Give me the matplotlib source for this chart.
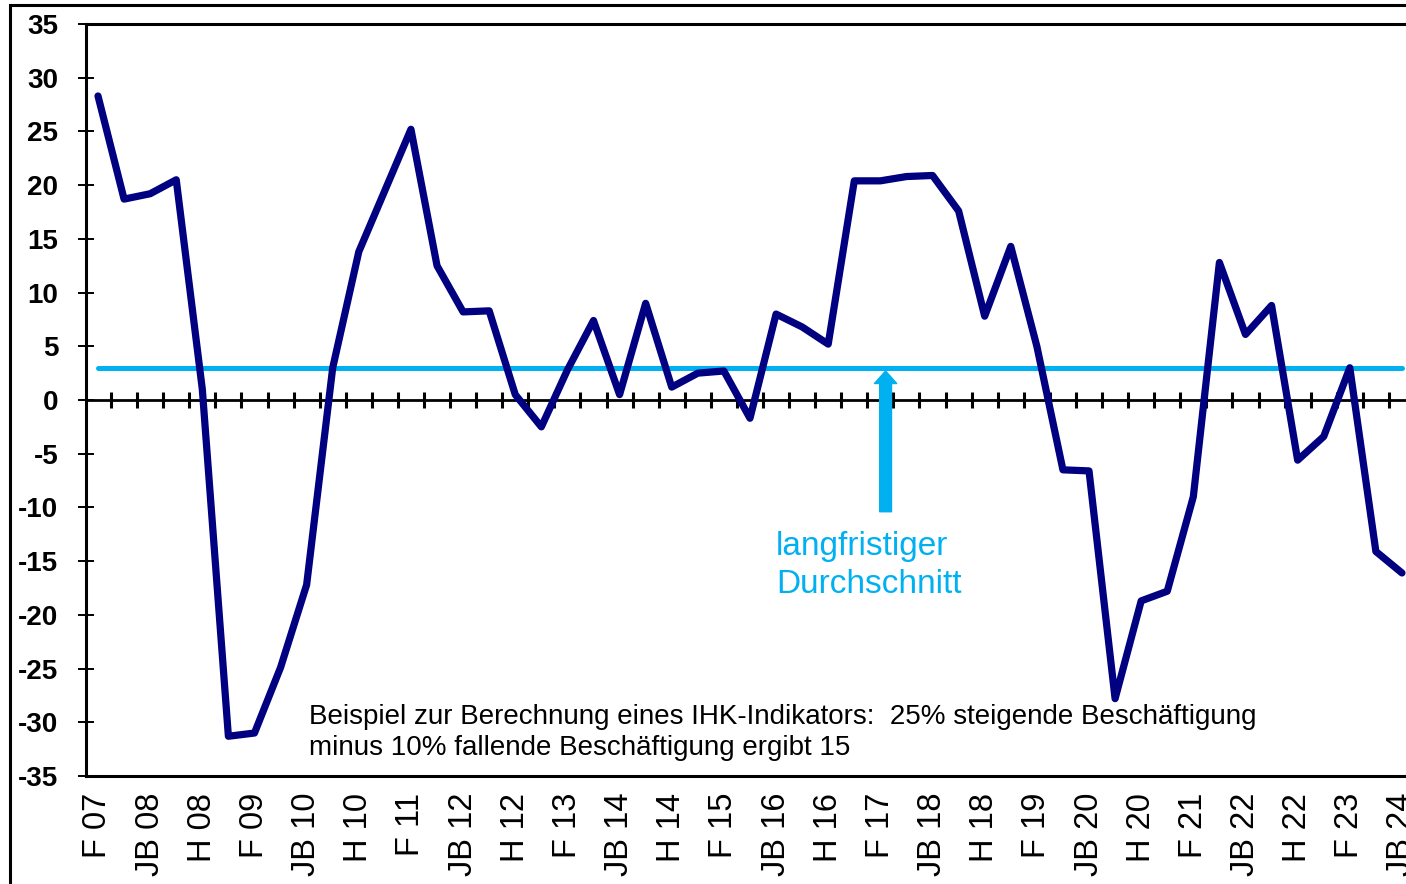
import numpy as np
import matplotlib
matplotlib.use("Agg")
import matplotlib.pyplot as plt
from matplotlib.patches import Rectangle

plt.rcParams['font.family'] = ['Liberation Sans', 'DejaVu Sans']

# Survey waves: F = Frühjahr, H = Herbst, JB = Jahresbeginn
periods = ['F 07', 'H 07', 'JB 08', 'F 08', 'H 08', 'JB 09', 'F 09', 'H 09', 'JB 10', 'F 10',
           'H 10', 'JB 11', 'F 11', 'H 11', 'JB 12', 'F 12', 'H 12', 'JB 13', 'F 13', 'H 13',
           'JB 14', 'F 14', 'H 14', 'JB 15', 'F 15', 'H 15', 'JB 16', 'F 16', 'H 16', 'JB 17',
           'F 17', 'H 17', 'JB 18', 'F 18', 'H 18', 'JB 19', 'F 19', 'H 19', 'JB 20', 'F 20',
           'H 20', 'JB 21', 'F 21', 'H 21', 'JB 22', 'F 22', 'H 22', 'JB 23', 'F 23', 'H 23',
           'JB 24']
indicator = [28.3, 18.7, 19.2, 20.5, 1.0, -31.3, -31.0, -24.9, -17.2, 3.0,
             13.8, 19.5, 25.2, 12.5, 8.2, 8.3, 0.5, -2.5, 2.8, 7.4,
             0.5, 9.0, 1.2, 2.5, 2.7, -1.7, 8.0, 6.8, 5.2, 20.4,
             20.4, 20.8, 20.9, 17.6, 7.8, 14.3, 5.0, -6.5, -6.6, -27.8,
             -18.7, -17.8, -9.0, 12.8, 6.1, 8.8, -5.6, -3.4, 3.0, -14.1,
             -16.1]
long_term_avg = 3.0
y_ticks = list(range(-35, 40, 5))

x = np.arange(len(periods))

fig = plt.figure(figsize=(14.06, 8.84), dpi=100)
ax = fig.add_axes([86 / 1406, 1 - 776 / 884, (1415 - 86) / 1406, (776 - 24) / 884])

# outer chart frame
fig.add_artist(Rectangle((10 / 1406, -0.1), 1.2, 1.1 - 5 / 884, transform=fig.transFigure,
                         fill=False, edgecolor='black', lw=2.2))

# zero line with category ticks
ax.axhline(0, color='black', lw=2, zorder=2)
ax.plot(x[:-1] + 0.5, np.zeros(len(x) - 1), ls='none', marker='|', ms=12, mew=2.2,
        color='black', zorder=2)

# long-term average
ax.plot([x[0], x[-1]], [long_term_avg, long_term_avg], color='#00B0F0', lw=3.6,
        solid_capstyle='round', zorder=3)

# indicator series
ax.plot(x, indicator, color='#000080', lw=5.2, solid_capstyle='round',
        solid_joinstyle='round', zorder=4)

ax.annotate('', xy=(30.2, long_term_avg - 0.3), xytext=(30.2, -10.4),
            arrowprops=dict(arrowstyle='simple,head_length=0.9,head_width=1.6,tail_width=0.85',
                            mutation_scale=10, color='#00B0F0', shrinkA=0, shrinkB=0),
            zorder=5)
ax.text(26.0, -12.2, 'langfristiger\nDurchschnitt', color='#00B0F0', fontsize=24,
        va='top', ha='left', linespacing=1.3)
ax.text(8.1, -28.3, 'Beispiel zur Berechnung eines IHK-Indikators:  25% steigende Beschäftigung\n'
        'minus 10% fallende Beschäftigung ergibt 15', fontsize=20, va='top', ha='left',
        linespacing=1.25)

ax.set_xlim(-0.46, len(x) - 0.5)
ax.set_ylim(-35, 35)
ax.set_yticks(y_ticks)
ax.set_yticklabels([str(v) for v in y_ticks], fontsize=20, fontweight='bold')
ax.tick_params(axis='y', direction='inout', length=12, width=1.4, pad=14)

ax.set_xticks(x[::2])
ax.set_xticklabels(periods[::2], rotation=90, fontsize=23.5, va='top', ha='center')
ax.tick_params(axis='x', length=0, pad=12)

for side in ['left', 'bottom', 'top']:
    ax.spines[side].set_linewidth(2.2)
ax.spines['right'].set_visible(False)

fig.savefig('out.png', dpi=100)
